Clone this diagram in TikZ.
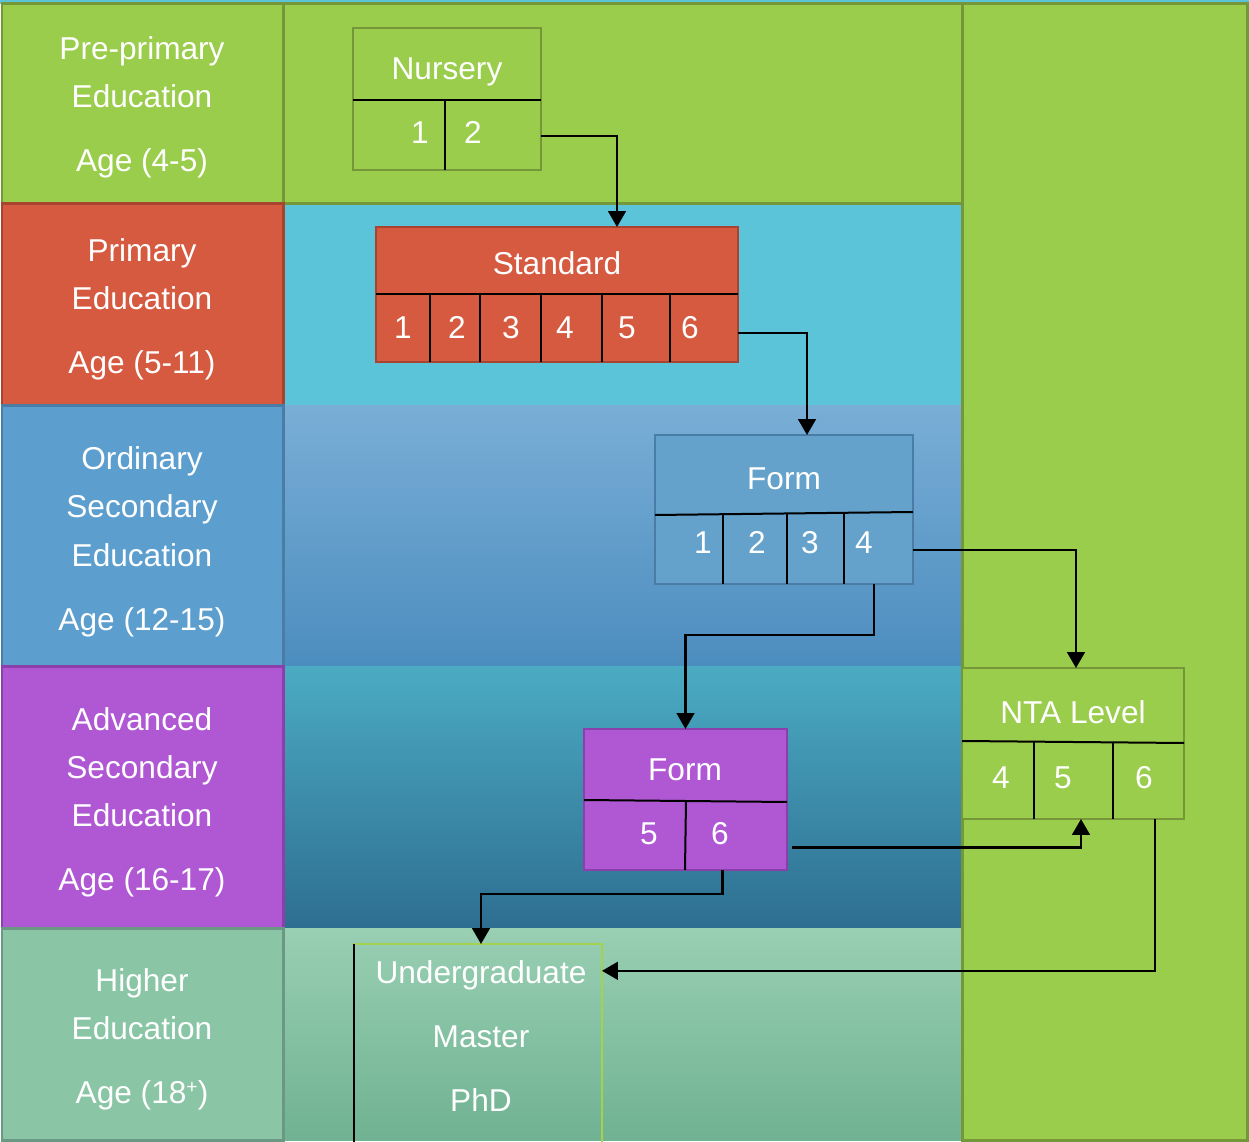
\documentclass[tikz,border=0pt]{standalone}
\usepackage{fontspec}
\setmainfont{Liberation Sans}
\usetikzlibrary{calc,arrows.meta}

\definecolor{gr}{HTML}{9BCD4C}
\definecolor{grd}{HTML}{76963A}
\definecolor{rd}{HTML}{D55A40}
\definecolor{rdd}{HTML}{A8432F}
\definecolor{cy}{HTML}{5BC4D9}
\definecolor{bl}{HTML}{5C9ECE}
\definecolor{bld}{HTML}{4A7DA6}
\definecolor{blbox}{HTML}{64A1CB}
\definecolor{blt}{HTML}{79AED6}
\definecolor{blb}{HTML}{4C8DBF}
\definecolor{pu}{HTML}{B058D4}
\definecolor{pud}{HTML}{8A3FAB}
\definecolor{tlt}{HTML}{4BABC3}
\definecolor{tlb}{HTML}{2E6E91}
\definecolor{mi}{HTML}{8AC5A6}
\definecolor{mid}{HTML}{6A9882}
\definecolor{mgt}{HTML}{99CFB3}
\definecolor{mgb}{HTML}{70B292}
\definecolor{lg}{HTML}{A3D24E}

\begin{document}
\begin{tikzpicture}[x=0.02cm,y=-0.02cm,
  txt/.style={text=white,font=\fontsize{18}{22}\selectfont,anchor=base,inner sep=0pt},
  box/.style={draw,line width=0.05cm,inner sep=0pt,outer sep=0pt},
  div/.style={black,line width=0.04cm},
  arr/.style={black,line width=0.05cm,-{Triangle[width=10pt,length=9pt]}},
  cellb/.style={line width=0.06cm}]

\useasboundingbox (0,0) rectangle (1249,1142);
\fill[white] (0,0) rectangle (1249,1142);
\fill[cy] (0,0) rectangle (1249,4);

% middle column backgrounds
\fill[cy] (283,204) rectangle (962,406);
\fill[top color=blt,bottom color=blb] (283,406) rectangle (962,666);
\fill[top color=tlt,bottom color=tlb] (283,666) rectangle (962,928);
\fill[top color=mgt,bottom color=mgb] (283,928) rectangle (962,1140);
\filldraw[fill=gr,draw=grd,cellb] (283,4) rectangle (962,204);
% right column
\filldraw[fill=gr,draw=grd,cellb] (962,4) rectangle (1247,1140);

% left column
\filldraw[fill=gr,draw=grd,cellb] (2,4) rectangle (283,204);
\filldraw[fill=rd,draw=rdd,cellb] (2,204) rectangle (283,406);
\filldraw[fill=bl,draw=bld,cellb] (2,406) rectangle (283,666);
\filldraw[fill=pu,draw=pud,cellb] (2,666) rectangle (283,928);
\filldraw[fill=mi,draw=mid,cellb] (2,928) rectangle (283,1140);

\node[txt] (l1a) at (142,60) {Pre-primary};
\node[txt] (l1b) at (142,108) {Education};
\node[txt] (l1c) at (142,172) {Age (4-5)};
\node[txt] (l2a) at (142,262) {Primary};
\node[txt] (l2b) at (142,310) {Education};
\node[txt] (l2c) at (142,374) {Age (5-11)};
\node[txt] (l3a) at (142,470) {Ordinary};
\node[txt] (l3b) at (142,518) {Secondary};
\node[txt] (l3c) at (142,566) {Education};
\node[txt] (l3d) at (142,630) {Age (12-15)};
\node[txt] (l4a) at (142,730) {Advanced};
\node[txt] (l4b) at (142,778) {Secondary};
\node[txt] (l4c) at (142,826) {Education};
\node[txt] (l4d) at (142,890) {Age (16-17)};
\node[txt] (l5a) at (142,991) {Higher};
\node[txt] (l5b) at (142,1039) {Education};
\node[txt] (l5c) at (142,1103) {Age (18\raisebox{0.55ex}{\fontsize{11}{11}\selectfont +})};

% boxes
\node[box,fill=gr,draw=grd,minimum width=3.76cm,minimum height=2.84cm] (nur) at (447,99) {};
\node[box,fill=rd,draw=rdd,minimum width=7.24cm,minimum height=2.70cm] (std) at (557,294.5) {};
\node[box,fill=blbox,draw=bld,minimum width=5.16cm,minimum height=2.98cm] (formA) at (784,509.5) {};
\node[box,fill=pu,draw=pud,minimum width=4.06cm,minimum height=2.82cm] (formB) at (685.5,799.5) {};
\node[box,fill=gr,draw=grd,minimum width=4.44cm,minimum height=3.02cm] (nta) at (1073,743.5) {};
\node[inner sep=0pt,outer sep=0pt,minimum width=4.96cm,minimum height=3.96cm] (higher) at (478,1043) {};
\draw[lg,line width=0.04cm] (higher.north west) -- (higher.north east) -- (higher.south east);
\draw[black,line width=0.04cm] (higher.north west) -- (higher.south west);

% dividers
\draw[div] (353,100) -- (541,100);
\draw[div] (445,100) -- (445,170);
\draw[div] (376,294) -- (738,294);
\foreach \xx in {430,480,541,602,670} \draw[div] (\xx,294) -- (\xx,362);
\draw[div] (655,515) -- (913,512);
\foreach \xx in {723,787,844} \draw[div] (\xx,514) -- (\xx,584);
\draw[div] (584,800) -- (787,802);
\draw[div] (686,801) -- (685,870);
\draw[div] (962,741) -- (1184,743);
\foreach \xx in {1034,1113} \draw[div] (\xx,742) -- (\xx,819);

% box texts
\node[txt] (nurt) at (447,80) {Nursery};
\node[txt] (n1) at (420,144) {1};
\node[txt] (n2) at (473,144) {2};
\node[txt] (stdt) at (557,275) {Standard};
\node[txt] (s1) at (403,339) {1};
\node[txt] (s2) at (457,339) {2};
\node[txt] (s3) at (511,339) {3};
\node[txt] (s4) at (565,339) {4};
\node[txt] (s5) at (627,339) {5};
\node[txt] (s6) at (690,339) {6};
\node[txt] (fat) at (784,490) {Form};
\node[txt] (a1) at (703,554) {1};
\node[txt] (a2) at (757,554) {2};
\node[txt] (a3) at (810,554) {3};
\node[txt] (a4) at (864,554) {4};
\node[txt] (fbt) at (685,780) {Form};
\node[txt] (b5) at (649,844) {5};
\node[txt] (b6) at (720,844) {6};
\node[txt] (ntat) at (1073,724) {NTA Level};
\node[txt] (t4) at (1001,788) {4};
\node[txt] (t5) at (1063,788) {5};
\node[txt] (t6) at (1144,788) {6};
\node[txt] (ug) at (481,983) {Undergraduate};
\node[txt] (ms) at (481,1047) {Master};
\node[txt] (phd) at (481,1111) {PhD};

% connectors
\draw[arr] ($(nur.east |- n2)+(0,3)$) -| ($(std.north)+(60,0)$);
\draw[arr] ($(std.east |- s6)+(0,5)$) -| ($(formA.north)+(23,0)$);
\draw[arr] ($(formA.east |- a4)+(0,7)$) -| ($(nta.north)+(3,0)$);
\draw[arr] ($(formA.south)+(90,0)$) -- ++(0,51) -| (formB.north);
\draw[arr] ($(formB.east)+(5,48)$) -| ($(nta.south)+(8,0)$);
\draw[arr] ($(formB.south)+(37,0)$) -- ++(0,24) -| ($(higher.north)+(3,0)$);
\draw[arr] ($(nta.south)+(82,0)$) |- ($(higher.east |- ug)+(0,-4)$);
\end{tikzpicture}
\end{document}
